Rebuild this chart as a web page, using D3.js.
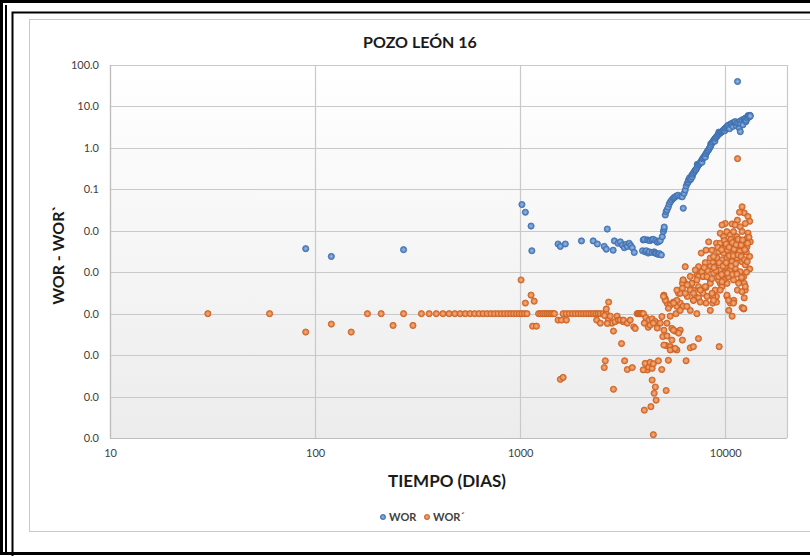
<!DOCTYPE html>
<html>
<head>
<meta charset="utf-8">
<script src="https://cdn.jsdelivr.net/npm/d3@7"></script>
<style>
  body { margin: 0; background: #fff; }
  svg { display: block; }
</style>
</head>
<body>
<svg id="chart" width="810" height="556"></svg>
<script>
// ---- texts and ticks ----
const titulo = "POZO LEÓN 16";
const tituloX = "TIEMPO (DIAS)";
const tituloY = "WOR - WOR`";
const nombresSeries = ["WOR", "WOR´"];
const ticksX = [10, 100, 1000, 10000];
const ticksY = [100, 10, 1, 0.1, 0.01, 0.001, 1e-4, 1e-5, 1e-6, 1e-7];

// ---- WOR: [tiempo (días), valor] ----
const wor = [
  [90,0.0037],[120,0.0024],[270,0.0035],
  [1020,0.043],[1060,0.028],[1130,0.013],[1140,0.0033],
  [1530,0.0048],[1570,0.0042],[1660,0.0048],[1990,0.0057],[2270,0.0057],[2380,0.0048],[2570,0.0042],
  [2630,0.0036],[2660,0.011],[2840,0.0034],[2880,0.0057],[3000,0.0050],[3080,0.0054],[3150,0.0045],
  [3220,0.0039],[3280,0.0047],[3330,0.0042],[3400,0.0050],[3460,0.0044],[3520,0.0039],[3600,0.0030],
  [3950,0.0033],[3980,0.0060],[4030,0.0062],[4070,0.0031],[4120,0.0033],[4170,0.0060],[4210,0.0029],
  [4240,0.0059],[4260,0.0031],[4310,0.0058],[4390,0.0061],[4400,0.0030],[4460,0.0062],[4500,0.0031],
  [4560,0.0029],[4580,0.0058],[4610,0.0028],[4660,0.0053],[4710,0.0027],[4740,0.0055],[4780,0.0028],
  [4820,0.0058],[4880,0.0026],
  [4930,0.0072],[4990,0.0096],[5030,0.011],[5040,0.0123],[5100,0.024],[5150,0.029],[5200,0.032],
  [5270,0.037],[5330,0.044],[5400,0.050],[5480,0.055],[5570,0.060],[5630,0.063],[5700,0.066],
  [5800,0.070],[5900,0.072],[6050,0.068],[6170,0.066],[6240,0.035],[6300,0.080],[6380,0.096],
  [6450,0.12],[6530,0.14],[6600,0.15],[6620,0.168],[6700,0.19],[6750,0.17],[6800,0.18],[6870,0.22],
  [6900,0.20],[6950,0.23],[7000,0.25],[7080,0.27],[7140,0.29],[7200,0.30],[7270,0.33],[7300,0.40],
  [7340,0.36],[7410,0.39],[7480,0.41],[7550,0.44],[7620,0.47],[7690,0.51],[7700,0.45],[7760,0.55],
  [7830,0.58],[7900,0.62],[7980,0.67],[8000,0.60],[8050,0.72],[8130,0.78],[8200,0.84],[8280,0.89],
  [8360,0.97],[8440,1.05],[8500,1.25],[8520,1.15],[8600,1.29],[8680,1.4],[8760,1.5],[8850,1.6],
  [8900,1.45],[8930,1.70],[9020,1.8],[9100,1.9],[9180,2.0],[9270,2.13],[9300,2.4],[9360,2.2],
  [9450,2.3],[9540,2.4],[9630,2.46],[9720,2.55],[9800,2.7],[9900,2.85],[9950,2.6],[10000,2.97],
  [10100,3.1],[10200,3.3],[10300,3.4],[10380,3.56],[10500,2.9],[10600,3.7],[10700,3.8],[10790,3.92],
  [10900,3.3],[11000,4.1],[11100,4.2],[11190,4.29],[11300,3.5],[11400,4.0],[11480,40],[11620,3.92],
  [11700,3.0],[11800,4.4],[11840,2.46],[11900,3.8],[12060,4.71],[12200,3.6],[12300,4.9],[12400,5.0],
  [12520,5.17],[12600,4.3],[12650,4.6],[12750,5.4],[12850,5.2],[12900,6.0],[13000,5.65],[13100,5.6],
  [13200,6.1],[13250,5.87]
];

// ---- WOR´: [tiempo (días), valor] ----
const worPrima = [
  [30,1e-4],[60,1e-4],[90,3.6e-5],[120,5.6e-5],[150,3.6e-5],[180,1e-4],[210,1e-4],[240,5.2e-5],
  [270,1e-4],[300,5.2e-5],
  [330,1e-4],[360,1e-4],[390,1e-4],[420,1e-4],[450,1e-4],[480,1e-4],[510,1e-4],[540,1e-4],[570,1e-4],
  [600,1e-4],[630,1e-4],[660,1e-4],[690,1e-4],[720,1e-4],[750,1e-4],[780,1e-4],[810,1e-4],[840,1e-4],
  [870,1e-4],[900,1e-4],[930,1e-4],[960,1e-4],[990,1e-4],[1020,1e-4],[1050,1e-4],[1080,1e-4],
  [1010,6.5e-4],[1060,1.8e-4],[1130,2.8e-4],[1170,2.0e-4],[1150,5e-5],[1200,5e-5],
  [1230,1e-4],[1260,1e-4],[1290,1e-4],[1320,1e-4],[1350,1e-4],[1380,1e-4],[1410,1e-4],[1440,1e-4],[1470,1e-4],
  [1530,7e-5],[1590,7e-5],[1680,7e-5],[1570,2.6e-6],[1620,2.9e-6],
  [1620,1e-4],[1680,1e-4],[1740,1e-4],[1800,1e-4],[1860,1e-4],[1920,1e-4],[1980,1e-4],[2040,1e-4],
  [2100,1e-4],[2160,1e-4],[2220,1e-4],[2280,1e-4],[2340,1e-4],[2400,1e-4],[2460,1e-4],[2540,1e-4],[2630,1e-4],
  [2360,7e-5],[2460,5.9e-5],[2580,9e-5],[2690,7e-5],[2750,8.7e-5],[2800,5.9e-5],[2900,6.4e-5],[2970,8.7e-5],
  [3010,7e-5],[3075,7e-5],[3180,6.4e-5],[3190,7e-5],[3330,5.9e-5],[3440,7e-5],[3580,4.8e-5],[3640,4.4e-5],
  [3720,1e-4],[3760,1e-4],[3800,1e-4],[3850,1e-4],[3900,1e-4],[3950,1e-4],[3990,1e-4],
  [4100,8e-5],[4250,7e-5],[4400,7.5e-5],[4550,6.5e-5],
  [2700,1.9e-4],[2630,1.3e-4],[2660,5.8e-5],[2850,3.8e-5],[2600,7.3e-6],[2570,5.0e-6],[2850,1.5e-6],
  [3120,1.9e-5],[3230,7.3e-6],[3330,4.5e-6],[3520,5.0e-6],
  [4030,5.9e-5],[4210,4.7e-5],[4300,5.3e-5],[4460,5.9e-5],[4660,4.5e-5],
  [4070,6.3e-6],[4170,4.4e-6],[4230,5.1e-6],[4300,6.7e-6],[4400,4.8e-6],[4460,6.2e-6],[3980,4.4e-6],
  [4400,2.5e-6],[4560,1.7e-6],[4500,1.2e-6],[4600,8.2e-7],[4030,4.7e-7],[4340,5.7e-7],[4460,1.2e-7],
  [4720,7.3e-6],[4900,4.5e-6],[5150,1.4e-6],[5280,7.5e-6],[4960,2.8e-5],[5150,1.7e-5],[5390,1.6e-5],
  [5590,1.4e-5],[5810,1.33e-5],[6440,7.3e-6],[6750,1.5e-5],[6990,1.6e-5],[7400,2.5e-5],[9340,1.6e-5],
  [5490,4.4e-5],[5700,3.8e-5],[6030,4.0e-5],[6180,2.3e-5],[4910,8.5e-5],[4820,5.9e-5],
  [5020,2.8e-4],[5100,2.3e-4],[5200,1.8e-4],[5390,1.6e-4],[5590,1.9e-4],[5810,1.5e-4],[5920,3.1e-4],
  [6230,6.5e-4],[6380,5.4e-4],[6870,5.4e-4],[6030,1.8e-4],[6230,1.5e-4],[6530,2.6e-4],[6750,1.2e-4],
  [6990,2.1e-4],[7270,1.0e-4],[7550,3.7e-4],[7800,3.1e-4],[8060,4.3e-4],[7270,8.6e-4],[7550,9.4e-4],
  [7800,7.9e-4],[8450,6.5e-4],[10800,8.7e-5],[10400,1.2e-4],[12300,1.3e-4],
  [5750,1.0e-4],[5390,8.7e-5],[5200,5.9e-5],[5020,4.0e-5],[5590,4.0e-5],[5930,3.4e-5],[5200,2.9e-5],
  [5490,2.3e-5],[5020,1.75e-5],[5390,1.33e-5],[5700,1.45e-5],
  [8690,1.8e-4],[9060,1.9e-4],[8450,1.2e-4],[9450,5.4e-4],[9640,4.5e-4],[9800,7.9e-4],[10200,2.6e-4],
  [10580,1.8e-4],[11000,2.1e-4],[11460,3.7e-4],[11830,5.9e-4],[12370,5.4e-4],[12520,3.7e-4],
  [12370,2.4e-4],[12080,1.4e-4],[11000,1.05e-3],[9270,1.05e-3],
  [6990,3.7e-4],[7140,2.6e-4],[7410,2.4e-4],[6030,3.1e-4],[5810,3.7e-4],[6180,5.4e-4],[6750,7.9e-4],
  [7410,7.9e-4],[9270,6.5e-4],[10200,5.4e-4],[8930,3.7e-4],[9060,2.6e-4],[8060,1.8e-4],[8690,2.6e-4],
  [12080,0.038],[12370,0.027],[11730,0.028],[12910,0.022],[13160,0.017],[12520,0.015],[11460,0.018],
  [10000,0.015],[10790,0.0146],[11190,0.0138],[11830,0.0125],[12080,0.0096],[12910,0.0088],[12780,0.0066],
  [7640,0.0029],[6380,0.00136],[9060,0.0050],[8060,0.0034],[8450,0.0022],[8690,0.0017],[13160,0.0012],
  [7990,0.0017],[7410,0.00136],[7140,0.00113],[7690,0.00103],[7800,7.9e-4],[7270,6.5e-4],[6870,5.4e-4],
  [7410,4.5e-4],[6230,6.5e-4],[6530,4.9e-4],[6180,4.1e-4],[6750,3.7e-4],[6380,3.1e-4],
  [9450,0.0087],[9820,0.0072],[10190,0.0095],[10580,0.0079],[10970,0.0095],[11400,0.0072],[11830,0.0060],
  [12290,0.0050],[12760,0.0041],[13240,0.0054],[9450,0.0050],[10000,0.0041],[10380,0.0054],[10790,0.0045],
  [11190,0.0054],[11620,0.0041],[9280,0.0031],[9820,0.0029],[10250,0.0034],[10910,0.0029],[11400,0.0034],
  [12060,0.0029],[12660,0.0031],[13150,0.0024],[9120,0.0022],[9640,0.0020],[10190,0.0022],[10790,0.0018],
  [11400,0.0022],[12060,0.0018],[12520,0.0015],[8930,0.00136],[9450,0.00113],[10000,0.00136],
  [10580,0.00113],[11190,0.00124],[11830,0.00103],[12290,7.8e-4],[8770,9.4e-4],[9280,7.8e-4],[9820,6.5e-4],
  [10380,7.8e-4],[10970,6.5e-4],[11620,5.4e-4],[12060,3.4e-4],[12520,4.5e-4],[10190,2.8e-4],[10970,1.8e-4],
  [12290,1.35e-4],[10380,2.1e-4],[9640,5.9e-4],[9820,9.4e-4],[8150,2.6e-4],[8770,2.1e-4],[8610,3.1e-4],
  [9450,3.7e-4],[7550,1.9e-4],[7000,2.1e-4],[6500,1.5e-4],[6030,1.2e-4],[5280,1.35e-4],[5810,2.1e-4],
  [5600,1.8e-4],[5100,2.1e-4],[5000,2.6e-4],[8150,7.8e-4],[8450,5.4e-4],[7990,4.5e-4],[7550,3.7e-4],
  [7000,3.1e-4],[8450,0.00136],[8770,0.0024],[8610,0.0034],[8300,0.0054],[9640,0.0138],
  [9200,0.0040],[9600,0.0035],[9900,0.0058],[10100,0.0048],[10450,0.0040],[10650,0.0062],[10850,0.0052],
  [11050,0.0036],[11300,0.0046],[11550,0.0062],[11750,0.0032],[11950,0.0045],[12150,0.0060],[12450,0.0035],
  [12850,0.0050],[13050,0.0070],[9350,0.0017],[9750,0.0014],[10100,0.0017],[10450,0.0025],[10700,0.0014],
  [10950,0.0025],[11250,0.0016],[11550,0.0026],[11950,0.0024],[12400,0.0020],[12800,0.0018],[9000,0.0011],
  [9600,0.00088],[10250,0.00095],[10850,0.00088],[11400,0.00090],[12000,0.00075],[12700,0.0010],
  [8600,0.00070],[8200,0.0011],[7900,0.0013],[8800,0.0013],
  [11480,0.55]
];

// ---- drawing ----
const svg = d3.select("#chart");
const plot = { left: 110, right: 787, top: 65, bottom: 438 };

const x = d3.scaleLog().domain([10, 20000]).range([plot.left, plot.right]);
const y = d3.scaleLog().domain([1e-7, 100]).range([plot.bottom, plot.top]);

const defs = svg.append("defs");
const bg = defs.append("linearGradient").attr("id", "fondo")
  .attr("x1", 0).attr("y1", 0).attr("x2", 0).attr("y2", 1);
bg.append("stop").attr("offset", "0%").attr("stop-color", "#ffffff");
bg.append("stop").attr("offset", "100%").attr("stop-color", "#ececec");

function markerGrad(id, c0, c1) {
  const g = defs.append("radialGradient").attr("id", id);
  g.append("stop").attr("offset", "0%").attr("stop-color", c0);
  g.append("stop").attr("offset", "100%").attr("stop-color", c1);
}
markerGrad("mAzul", "#9cbce6", "#4677b8");
markerGrad("mNaranja", "#f6b48a", "#dc6d2a");

// outer frame lines
svg.append("rect").attr("x", 1.5).attr("y", 1.5).attr("width", 830).attr("height", 552)
  .attr("fill", "none").attr("stroke", "#000").attr("stroke-width", 3);
svg.append("line").attr("x1", 6).attr("x2", 6).attr("y1", 5).attr("y2", 552)
  .attr("stroke", "#000").attr("stroke-width", 2);
svg.append("rect").attr("x", 12.5).attr("y", 12.5).attr("width", 820).attr("height", 560)
  .attr("fill", "none").attr("stroke", "#000").attr("stroke-width", 2);

// chart area
svg.append("rect").attr("x", 29.5).attr("y", 19.5).attr("width", 800).attr("height", 512)
  .attr("fill", "#fff").attr("stroke", "#c8c8c8").attr("stroke-width", 1);

// plot background
svg.append("rect").attr("x", plot.left).attr("y", plot.top)
  .attr("width", plot.right - plot.left).attr("height", plot.bottom - plot.top)
  .attr("fill", "url(#fondo)");

// grid
const grid = svg.append("g");
grid.selectAll("line.h").data(ticksY).join("line")
  .attr("x1", plot.left).attr("x2", plot.right)
  .attr("y1", d => Math.round(y(d)) + 0.5).attr("y2", d => Math.round(y(d)) + 0.5)
  .attr("stroke", "#c9c9c9").attr("stroke-width", 1.2);
grid.selectAll("line.v").data(ticksX.concat([20000])).join("line")
  .attr("y1", plot.top).attr("y2", plot.bottom)
  .attr("x1", d => Math.round(x(d)) + 0.5).attr("x2", d => Math.round(x(d)) + 0.5)
  .attr("stroke", "#c9c9c9").attr("stroke-width", 1.2);
// axis lines
svg.append("line").attr("x1", plot.left + 0.5).attr("x2", plot.left + 0.5)
  .attr("y1", plot.top).attr("y2", plot.bottom).attr("stroke", "#bdbdbd").attr("stroke-width", 1.2);
svg.append("line").attr("x1", plot.left).attr("x2", plot.right)
  .attr("y1", plot.bottom + 0.5).attr("y2", plot.bottom + 0.5).attr("stroke", "#bdbdbd").attr("stroke-width", 1.2);

// tick labels via d3 axes
const fmt = d3.format(".1f");
const axY = svg.append("g").attr("transform", `translate(${plot.left - 8},0)`)
  .call(d3.axisLeft(y).tickValues(ticksY).tickFormat(fmt).tickSize(0));
const axX = svg.append("g").attr("transform", `translate(0,${plot.bottom + 8})`)
  .call(d3.axisBottom(x).tickValues(ticksX).tickFormat(d3.format("d")).tickSize(0));
[axY, axX].forEach(a => {
  a.select(".domain").remove();
  a.selectAll("text").attr("font-family", "Lato, 'Open Sans', sans-serif")
    .attr("font-size", 11).attr("fill", "#404040");
});

// points
svg.append("g").selectAll("circle").data(wor).join("circle")
  .attr("cx", d => x(d[0])).attr("cy", d => y(d[1])).attr("r", 3.1)
  .attr("fill", "url(#mAzul)").attr("stroke", "#3e6fae").attr("stroke-width", 0.8);
svg.append("g").selectAll("circle").data(worPrima).join("circle")
  .attr("cx", d => x(d[0])).attr("cy", d => y(d[1])).attr("r", 3.1)
  .attr("fill", "url(#mNaranja)").attr("stroke", "#c85f22").attr("stroke-width", 0.8);

// titles
const font = "Lato, 'Open Sans', sans-serif";
svg.append("text").attr("x", 420).attr("y", 48).attr("text-anchor", "middle")
  .attr("font-family", font).attr("font-weight", 700).attr("font-size", 16).attr("fill", "#1a1a1a")
  .text(titulo);
svg.append("text").attr("x", 447).attr("y", 487).attr("text-anchor", "middle")
  .attr("font-family", font).attr("font-weight", 700).attr("font-size", 17).attr("fill", "#1a1a1a")
  .text(tituloX);
svg.append("text").attr("transform", "translate(64,255) rotate(-90)").attr("text-anchor", "middle")
  .attr("font-family", font).attr("font-weight", 700).attr("font-size", 16).attr("fill", "#1a1a1a")
  .text(tituloY);

// legend
const leg = svg.append("g").attr("transform", "translate(383,517)");
const legItems = [
  { nombre: nombresSeries[0], fill: "url(#mAzul)", stroke: "#3e6fae", dx: 0 },
  { nombre: nombresSeries[1], fill: "url(#mNaranja)", stroke: "#c85f22", dx: 44 }
];
legItems.forEach(it => {
  leg.append("circle").attr("cx", it.dx).attr("cy", 0).attr("r", 2.6)
    .attr("fill", it.fill).attr("stroke", it.stroke).attr("stroke-width", 0.8);
  leg.append("text").attr("x", it.dx + 6).attr("y", 4)
    .attr("font-family", font).attr("font-weight", 700).attr("font-size", 11).attr("fill", "#404040")
    .text(it.nombre);
});
</script>
</body>
</html>
